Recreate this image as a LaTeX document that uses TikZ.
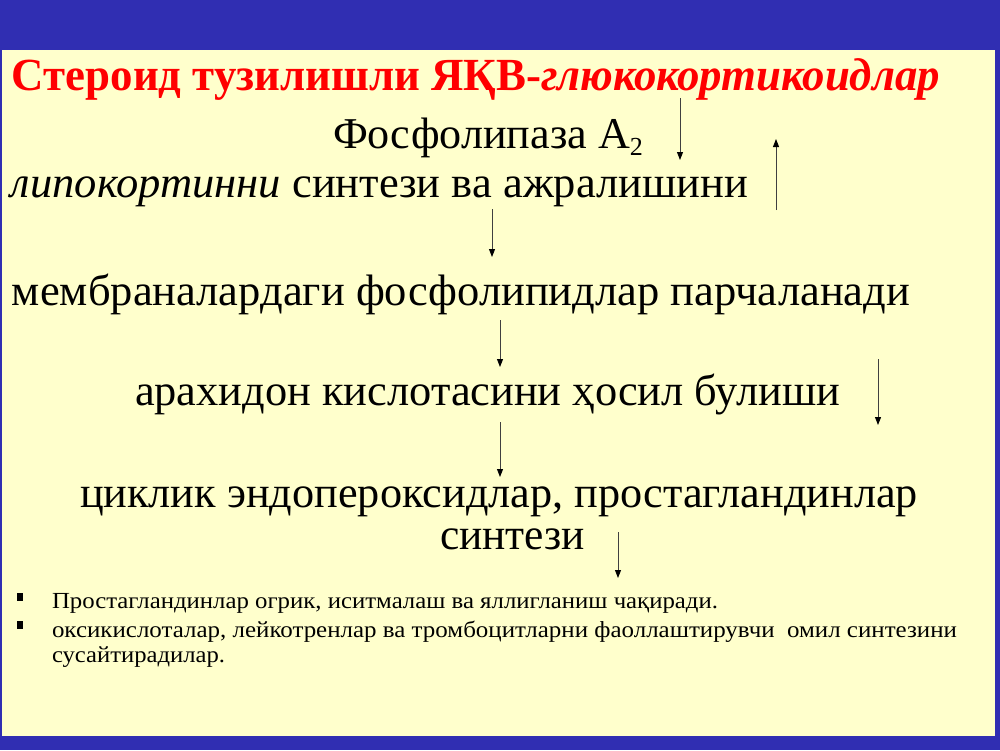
\documentclass[tikz,border=0pt]{standalone}
\usepackage{fontspec}
\setmainfont{Liberation Serif}
\usetikzlibrary{arrows.meta}
\definecolor{slideblue}{RGB}{48,46,178}
\definecolor{slideyellow}{RGB}{255,255,204}
\definecolor{titlered}{RGB}{255,0,0}
\tikzset{
 txt/.style={anchor=base west, inner sep=0pt, outer sep=0pt},
 big/.style={txt, font=\fontsize{44}{48}\selectfont},
 small/.style={txt, font=\fontsize{23}{26}\selectfont},
 flow/.style={line width=0.9pt, draw=black!75, -{Triangle[length=8pt,width=6pt,color=black]}},
 bulletbox/.style={fill=black, inner sep=0pt, minimum width=6pt, minimum height=8pt},
}
\begin{document}
\begin{tikzpicture}[x=1pt,y=-1pt]
\useasboundingbox (0,0) rectangle (1000,750);
\fill[slideblue] (0,0) rectangle (1000,750);
\fill[slideyellow] (2,50) rectangle (995,736);
% title
\node[txt, font=\fontsize{46}{50}\selectfont\bfseries, text=titlered] (title) at (12,90)
  {\resizebox{928pt}{\height}{Стероид тузилишли ЯҚВ-\textit{глюкокортикоидлар}}};
% flow lines
\node[big] (fosf) at (333,148) {\resizebox{310pt}{\height}{Фосфолипаза A\raisebox{-7pt}{\fontsize{26}{28}\selectfont 2}}};
\node[big] (lipo) at (11,197) {\resizebox{737pt}{\height}{\textit{липокортинни} синтези ва ажралишини}};
\node[big] (memb) at (12,305) {\resizebox{898pt}{\height}{мембраналардаги фосфолипидлар парчаланади}};
\node[big] (arax) at (135,405) {\resizebox{705pt}{\height}{арахидон кислотасини ҳосил булиши}};
\node[big] (cycl) at (80,507) {\resizebox{838pt}{\height}{циклик эндопероксидлар, простагландинлар}};
\node[big] (sint) at (440,549) {\resizebox{145pt}{\height}{синтези}};
% bullets
\node[bulletbox] (b1) at (20,597) {};
\node[bulletbox] (b2) at (20,625) {};
\node[small] (t1) at (52,608) {\resizebox{666pt}{\height}{Простагландинлар огрик, иситмалаш ва яллигланиш чақиради.}};
\node[small] (t2) at (52,637) {\resizebox{905pt}{\height}{оксикислоталар, лейкотренлар ва тромбоцитларни фаоллаштирувчи\ \ омил синтезини}};
\node[small] (t3) at (52,662) {\resizebox{173pt}{\height}{сусайтирадилар.}};
% arrows
\coordinate (a1s) at (680,98);  \coordinate (a1e) at (680,160);
\coordinate (a2s) at (776,210); \coordinate (a2e) at (776,139);
\coordinate (a3s) at (492,209); \coordinate (a3e) at (492,257);
\coordinate (a4s) at (500,320); \coordinate (a4e) at (500,367);
\coordinate (a5s) at (878,359); \coordinate (a5e) at (878,425);
\coordinate (a6s) at (500,422); \coordinate (a6e) at (500,477);
\coordinate (a7s) at (618,532); \coordinate (a7e) at (618,578);
\draw[flow] (a1s) -- (a1e);
\draw[flow] (a2s) -- (a2e);
\draw[flow] (a3s) -- (a3e);
\draw[flow] (a4s) -- (a4e);
\draw[flow] (a5s) -- (a5e);
\draw[flow] (a6s) -- (a6e);
\draw[flow] (a7s) -- (a7e);
\end{tikzpicture}
\end{document}
